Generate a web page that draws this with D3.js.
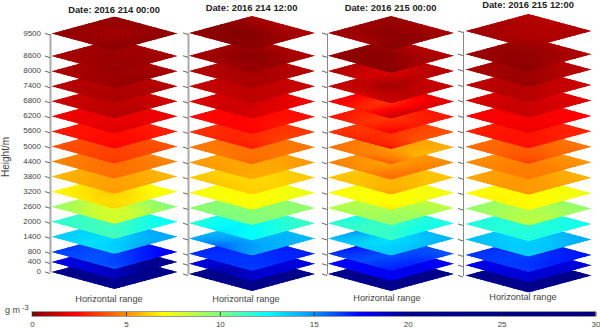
<!DOCTYPE html>
<html lang="en">

<head>
    <meta charset="UTF-8">
    <title>Water vapour density layers</title>
    <script src="https://d3js.org/d3.v7.min.js"></script>
    <style>
        html, body {
            margin: 0;
            background: #fff;
        }

        svg {
            display: block;
        }

        text {
            font-family: "Liberation Sans", Arial, sans-serif;
        }
    </style>
</head>

<body>
    <svg width="600" height="328"></svg>

    <script>
        const dates = ["Date: 2016 214 00:00", "Date: 2016 214 12:00", "Date: 2016 215 00:00", "Date: 2016 215 12:00"];

        // layer heights, top of the stack first
        const heights = [9500, 8600, 8000, 7400, 6800, 6200, 5600, 5000, 4400, 3800, 3200, 2600, 2000, 1400, 800, 400, 0];

        // colour bar
        const cbTicks = [0, 5, 10, 15, 20, 25, 30];
        const cbStops = [0, 2.3, 5, 7, 10, 12.5, 15, 17.5, 20, 30];
        const cbColors = ["#7f0000", "#ff0000", "#ff8c00", "#ffff00", "#7fff7f", "#00ffff", "#0090ff", "#0000ff", "#000090", "#00007f"];

        // g m-3 read off each layer, same order as heights. Nine readings per layer:
        // left, left-front, front / back-left, centre, front-right / back, back-right, right
        const grid0000a = [
            [.3, .4, .2, .4, .7, .3, .4, .4, .3],
            [.7, .7, .4, .6, .5, .5, .6, .7, .7],
            [.8, .7, .5, .7, .6, .4, .7, .7, .8],
            [1, .9, .8, 1, .9, .8, 1, 1, 1],
            [1.4, 1.3, .9, 1.3, 1.1, 1.1, 1.3, 1.4, 1.5],
            [2, 2, 1.6, 2, 1.9, 1.9, 2, 2, 2],
            [2.8, 2.6, 2.3, 2.7, 2.5, 2.6, 2.8, 2.8, 2.9],
            [3.9, 3.7, 3.3, 3.8, 3.5, 3.7, 3.9, 3.9, 3.9],
            [4.9, 4.6, 4.4, 4.7, 4.4, 4.6, 4.8, 4.8, 4.9],
            [5.8, 5.5, 5.2, 5.6, 5.3, 5.5, 5.7, 5.7, 5.8],
            [7, 6.6, 6.2, 6.6, 6, 6.8, 6.8, 7, 7.3],
            [9.6, 8.6, 7.6, 8.8, 7.6, 8.6, 9, 9.6, 9.9],
            [11.6, 11.4, 10.8, 11.5, 11, 12, 11.8, 12.2, 12.5],
            [13.7, 13.2, 13.3, 13.6, 13.2, 14.5, 14, 14.6, 14.4],
            [16.5, 16, 16, 16.4, 16.2, 17, 16.6, 17.2, 17.8],
            [18, 18.3, 18.8, 18.3, 19, 20, 18.6, 20, 21],
            [24, 22, 21, 24, 24, 24, 24, 24, 24]
        ];
        const grid1200a = [
            [.4, .2, .2, .1, .1, .5, .6, .9, .8],
            [.6, .7, .4, .6, .2, .5, .6, .8, .9],
            [.9, 1, .7, .9, .7, .9, .9, 1, 1],
            [1.2, 1.3, 1, 1.2, 1.1, 1.3, 1.2, 1.3, 1.3],
            [1.7, 1.4, 1.5, 1.6, 1.4, 1.9, 1.7, 1.9, 2],
            [2.4, 2.4, 2.2, 2.4, 2.3, 2.8, 2.5, 2.6, 2.5],
            [3.2, 3, 2.7, 3.2, 3, 3.6, 3.3, 3.4, 3.3],
            [4.6, 4.7, 4.2, 4.6, 4.4, 4.6, 4.6, 4.6, 4.6],
            [5.2, 5.3, 5.6, 5.4, 5.5, 5.5, 5.4, 5.4, 5.2],
            [6, 6, 6.2, 6.2, 6.4, 6.2, 6, 6.2, 6],
            [7.3, 7.1, 7, 7.2, 7, 7.2, 7.3, 7.3, 7.5],
            [9.6, 10, 10, 9.8, 9.8, 9.6, 10, 9.7, 9.5],
            [11.5, 13, 12.5, 12.3, 12.6, 11.8, 12, 11.6, 11.3],
            [14.3, 15.8, 14.5, 14, 14.4, 14.2, 14.4, 14, 14.1],
            [16.7, 16.6, 16.4, 17, 16.6, 16.8, 17, 17, 17],
            [18, 19.5, 18.5, 18.5, 18.6, 18.4, 18.4, 18.2, 18.3],
            [24, 23, 22, 24, 24, 24, 24, 24, 24]
        ];
        const grid0000b = [
            [.4, .8, .1, .6, .2, .3, .3, .7, .7],
            [.3, .3, 0, .3, .2, .8, .6, 1.1, .8],
            [.8, 1.4, .5, 1, 1.7, 1, 1, 1.1, 1],
            [1.1, 1.6, 1.2, 1.3, .7, 1.2, 1.2, 1.5, 1.2],
            [1.9, 3, 1.3, 2.2, 3.4, 1.5, 1.8, 2, 1.8],
            [2.6, 3.2, 2.2, 2.8, 3.4, 2.8, 2.6, 2.7, 2.7],
            [3.2, 3, 2.6, 3.5, 3.2, 4, 3.2, 3.6, 3.8],
            [4.5, 4.6, 3.9, 4.6, 5.2, 5.8, 4.5, 5.4, 5.6],
            [4.7, 5, 4.3, 5.2, 5.4, 4.6, 5, 5.2, 5],
            [5.9, 6, 5.3, 6.2, 5.6, 5.9, 6.2, 6, 6],
            [7, 7.2, 6.6, 7.4, 6.9, 7.2, 7.4, 7.4, 7.2],
            [8.9, 9, 9.6, 8.6, 9, 9.2, 8.6, 8.4, 8.6],
            [11.6, 11.4, 11.2, 12.2, 11.2, 12.3, 12, 12, 12],
            [14, 13.5, 13.6, 15, 13, 14, 14.4, 14, 14.2],
            [16.6, 16.2, 17, 17.4, 16, 16.8, 16.6, 16.2, 16],
            [17.2, 17.5, 17.6, 18, 18.2, 18, 18, 17.8, 17.4],
            [23, 23, 22, 24, 24, 24, 24, 24, 24]
        ];
        const grid1200b = [
            [.5, .7, .5, .7, .9, .9, 1, 1, .8],
            [.5, .4, .1, .5, .3, .7, .6, .8, .9],
            [.7, .6, .3, .7, .5, .9, .8, 1, 1.1],
            [1.1, 1, .9, 1.1, .9, 1.3, 1.2, 1.3, 1.4],
            [1.6, 1.4, 1.2, 1.6, 1.3, 1.6, 1.7, 1.8, 1.7],
            [2.2, 2.2, 1.9, 2.2, 2.1, 2.3, 2.3, 2.3, 2.3],
            [2.9, 2.7, 2.5, 2.8, 2.6, 2.9, 3, 3, 3],
            [4.4, 4.2, 3.4, 4.4, 4, 4.3, 4.6, 4.6, 4.6],
            [5, 4.8, 4.6, 5.1, 4.7, 4.8, 5.2, 5.2, 5.2],
            [5.5, 5.2, 5.2, 5.4, 5.2, 5.4, 5.6, 5.6, 5.7],
            [7, 6.8, 6.9, 6.9, 6.9, 7.1, 7.1, 7.2, 7.4],
            [9.6, 9, 8.4, 9.4, 8.8, 8.8, 9.6, 9.4, 9.6],
            [11.8, 11.8, 11.8, 12, 11.6, 12, 12, 12, 12.2],
            [14, 13.8, 13.4, 13.8, 13.4, 14, 14.4, 14.2, 14.4],
            [16.6, 16.4, 16.5, 16.8, 16.4, 17, 16.8, 17, 17.2],
            [18, 18.2, 18.6, 18.2, 18.2, 18.6, 18, 18, 18.4],
            [24, 23, 22, 24, 24, 24, 24, 24, 24]
        ];
        const grids = [grid0000a, grid1200a, grid0000b, grid1200b];

        const svg = d3.select("svg");
        const defs = svg.append("defs");
        const textColor = "#444";

        // where each 3D box landed in the figure
        const panels = [
            { axisX: 50, cx: 114.5, top: 33.5, bottom: 272, titleY: 12.5, labelX: 109, labelY: 302, axisW: 2, axisC: "#aaa" },
            { axisX: 188, cx: 252, top: 33, bottom: 274, titleY: 10.5, labelX: 246, labelY: 302, axisW: 2, axisC: "#aaa" },
            { axisX: 327, cx: 391, top: 33, bottom: 274, titleY: 10.5, labelX: 387, labelY: 301, axisW: 1, axisC: "#888" },
            { axisX: 463, cx: 528.5, top: 31, bottom: 275.5, titleY: 7.5, labelX: 523, labelY: 300, axisW: 1, axisC: "#888" }
        ];
        const halfW = 63;
        const halfH = 17;
        const steps = 6;

        const color = d3.scaleLinear().domain(cbStops).range(cbColors);

        panels.forEach((p, k) => {
            const g = svg.append("g");
            const y = d3.scaleLinear().domain([0, 9500]).range([p.bottom, p.top]);

            // u runs along the left-front edge, v along the left-back edge
            const px = d3.scaleLinear().domain([0, 4]).range([p.cx - halfW, p.cx + halfW]);
            const py = d3.scaleLinear().domain([-2, 2]).range([-halfH, halfH]);
            const pt = (u, v) => `${px(u + v)},${py(u - v)}`;

            defs.append("clipPath").attr("id", `diamond${k}`).append("path")
                .attr("d", `M${pt(0, 0)}L${pt(2, 0)}L${pt(2, 2)}L${pt(0, 2)}Z`);

            // bottom layer first so that the upper ones cover it
            d3.range(heights.length - 1, -1, -1).forEach(i => {
                const vals = grids[k][i];
                const layer = g.append("g")
                    .attr("transform", `translate(0,${y(heights[i])})`)
                    .attr("clip-path", `url(#diamond${k})`);
                const cells = [];
                d3.range(steps * 2).forEach(a => d3.range(steps * 2).forEach(b => cells.push([a / steps, b / steps])));
                const shade = (u, v) => {
                    const c = Math.min(Math.floor(u), 1), r = Math.min(Math.floor(v), 1);
                    const fu = u - c, fv = v - r;
                    const at = (rr, cc) => vals[rr * 3 + cc];
                    return (at(r, c) * (1 - fu) + at(r, c + 1) * fu) * (1 - fv)
                        + (at(r + 1, c) * (1 - fu) + at(r + 1, c + 1) * fu) * fv;
                };
                const d = 1 / steps;
                layer.selectAll("path").data(cells).join("path")
                    .attr("d", ([u, v]) => `M${pt(u, v)}L${pt(u + d, v)}L${pt(u + d, v + d)}L${pt(u, v + d)}Z`)
                    .attr("fill", ([u, v]) => color(shade(u + d / 2, v + d / 2)))
                    .attr("stroke", ([u, v]) => color(shade(u + d / 2, v + d / 2)))
                    .attr("stroke-width", 1);
            });

            // height axis
            const axis = d3.axisLeft(y).tickValues(heights).tickSizeInner(5).tickSizeOuter(0).tickPadding(4);
            if (k > 0) axis.tickFormat("");
            else axis.tickFormat(d3.format("d"));
            const ax = g.append("g").attr("transform", `translate(${p.axisX},0)`).call(axis);
            ax.select(".domain").attr("stroke", p.axisC).attr("stroke-width", p.axisW);
            ax.selectAll(".tick line").attr("stroke", "#666").attr("y1", 1).attr("y2", -0.6);
            ax.selectAll(".tick text").attr("fill", textColor).attr("font-size", 8)
                .attr("font-family", "Liberation Sans").attr("y", -1);

            g.append("text")
                .attr("x", p.cx - 0.5)
                .attr("y", p.titleY)
                .attr("text-anchor", "middle")
                .attr("font-size", 9.4)
                .attr("font-weight", "bold")
                .attr("fill", "#222")
                .text(dates[k]);

            g.append("text")
                .attr("x", p.labelX)
                .attr("y", p.labelY)
                .attr("text-anchor", "middle")
                .attr("font-size", 9.2)
                .attr("fill", textColor)
                .text("Horizontal range");
        });

        svg.append("text")
            .attr("transform", "translate(9,157) rotate(-90)")
            .attr("text-anchor", "middle")
            .attr("font-size", 10)
            .attr("fill", textColor)
            .text("Height/m");

        // colour bar
        const cbX = d3.scaleLinear().domain([0, 30]).range([32, 595.5]);
        const gradient = defs.append("linearGradient").attr("id", "cb");
        gradient.selectAll("stop").data(cbStops).join("stop")
            .attr("offset", d => d / 30)
            .attr("stop-color", (d, i) => cbColors[i]);

        svg.append("rect")
            .attr("x", cbX(0))
            .attr("y", 311.5)
            .attr("width", cbX(30) - cbX(0))
            .attr("height", 5)
            .attr("fill", "url(#cb)")
            .attr("stroke", "#999")
            .attr("stroke-width", 1);

        const cbAxis = svg.append("g")
            .attr("transform", "translate(0,316)")
            .call(d3.axisBottom(cbX).tickValues(cbTicks).tickSizeOuter(0).tickSizeInner(-4).tickPadding(5));
        cbAxis.select(".domain").remove();
        cbAxis.selectAll(".tick line").attr("stroke", "#222").attr("stroke-width", 0.8);
        cbAxis.selectAll(".tick text").attr("fill", textColor).attr("font-size", 8)
            .attr("font-family", "Liberation Sans").attr("y", 5.5);

        const unit = svg.append("text").attr("x", 5).attr("y", 313).attr("font-size", 9).attr("fill", textColor);
        unit.append("tspan").text("g m");
        unit.append("tspan").attr("dy", -3).attr("font-size", 7.5).text(" -3");
    </script>
</body>

</html>
